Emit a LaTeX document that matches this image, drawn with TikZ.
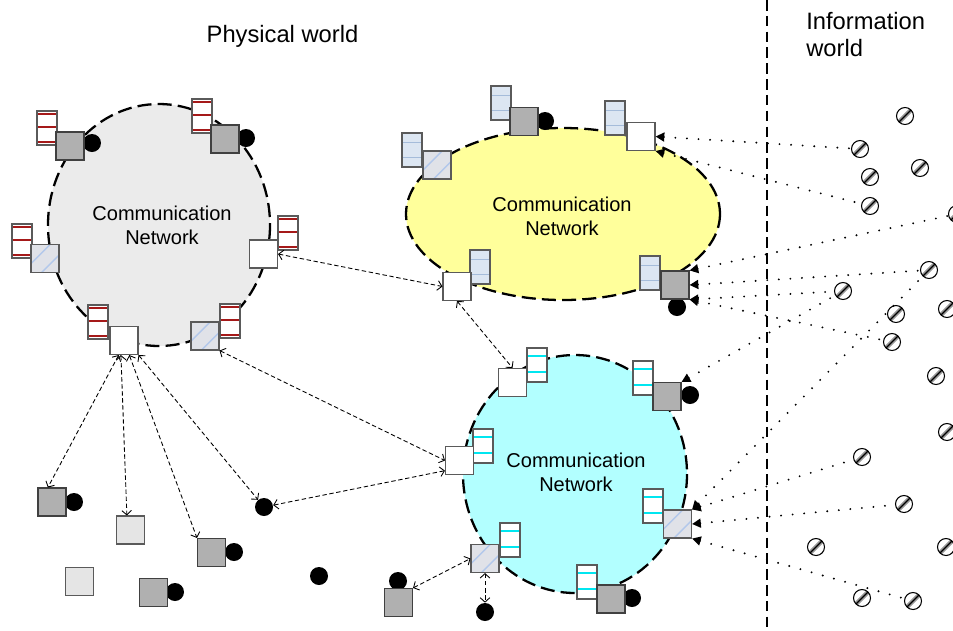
\documentclass[tikz,border=0pt]{standalone}
\usepackage{fontspec}
\setmainfont{Liberation Sans}
\usetikzlibrary{arrows.meta}

\definecolor{netgrey}{RGB}{235,235,235}
\definecolor{netyellow}{RGB}{255,255,155}
\definecolor{netcyan}{RGB}{178,255,255}
\definecolor{devdark}{RGB}{176,176,176}
\definecolor{devlight}{RGB}{229,229,229}
\definecolor{hatchfill}{RGB}{224,226,232}
\definecolor{hatchline}{RGB}{178,200,235}
\definecolor{slotred}{RGB}{165,25,25}
\definecolor{qblue}{RGB}{220,230,242}
\definecolor{slotblue}{RGB}{165,188,218}
\definecolor{slotcyan}{RGB}{0,230,240}
\definecolor{edgegrey}{RGB}{90,90,90}

\tikzset{
  net/.style={draw=black, line width=1.3pt, dash pattern=on 8pt off 3.5pt},
  netlabel/.style={align=center, inner sep=0pt, font=\fontsize{11.4}{13.6}\selectfont},
  title/.style={inner sep=0pt, font=\fontsize{13.5}{15.5}\selectfont},
  divider/.style={line width=0.8pt, dash pattern=on 6pt off 3pt},
  dev/.style={draw=edgegrey, line width=0.6pt, minimum size=0.56cm, inner sep=0pt},
  devwhite/.style={dev, fill=white},
  devdark/.style={dev, fill=devdark, draw=black!75},
  devlight/.style={dev, fill=devlight},
  devhatch/.style={dev, fill=hatchfill, path picture={
    \foreach \o in {-5pt,6pt}
      \draw[hatchline, line width=0.8pt] (path picture bounding box.south west) ++(\o,0pt) -- ++(20pt,20pt);}},
  queue/.style={draw=edgegrey, fill=white, line width=0.6pt, minimum width=0.4cm, minimum height=0.68cm, inner sep=0pt},
  qred/.style={queue, path picture={
    \foreach \o in {1.5pt,9pt,17.5pt}
      \draw[slotred, line width=1.2pt] (path picture bounding box.north west) ++(0pt,-\o) -- ++(20pt,0pt);}},
  qblue/.style={queue, fill=qblue, path picture={
    \foreach \o in {5.4pt,13.9pt}
      \draw[slotblue, line width=1pt] (path picture bounding box.north west) ++(0pt,-\o) -- ++(20pt,0pt);}},
  qcyan/.style={queue, path picture={
    \foreach \o in {4.4pt,13.5pt}
      \draw[slotcyan, line width=1.2pt] (path picture bounding box.north west) ++(0pt,-\o) -- ++(20pt,0pt);}},
  dot/.style={circle, fill=black, minimum size=0.36cm, inner sep=0pt},
  infonode/.style={circle, draw=black, line width=0.6pt, fill=white, minimum size=0.34cm, inner sep=0pt,
    path picture={
      \draw[black!40, line width=2.5pt] (path picture bounding box.south west) -- (path picture bounding box.north east);
      \draw[black, line width=0.7pt] (path picture bounding box.south west) -- (path picture bounding box.north east);}},
  physlink/.style={line width=0.5pt, dash pattern=on 2.5pt off 1.5pt,
    {Straight Barb[length=2.5pt,width=5.5pt]}-{Straight Barb[length=2.5pt,width=5.5pt]}},
  infolink/.style={line width=1.2pt, line cap=round, dash pattern=on 0pt off 6.6pt,
    {Triangle[length=5pt,width=5pt]}-}
}

\begin{document}
\begin{tikzpicture}[x=0.02cm,y=-0.02cm]
\useasboundingbox (0,0) rectangle (953,630);

% networks
\draw[net,fill=netgrey] (159,225) ellipse (111 and 121);
\draw[net,fill=netyellow] (563,214) ellipse (157 and 86);
\draw[net,fill=netcyan] (575,474) ellipse (112 and 119);
\path (162,225) node[netlabel] (lnet) {Communication\\Network};
\path (562,216) node[netlabel] (ynet) {Communication\\Network};
\path (576,472) node[netlabel] (cnet) {Communication\\Network};

% physical / information border
\draw[divider] (767,0) -- (767,630);
\node[title, anchor=base] (phys) at (282.5,42) {Physical world};
\node[title, anchor=north west, align=left] (info) at (806,12) {Information\\world};

% sensors (black balls)
\foreach \n/\x/\y in {lb1/92/143, lb2/246/138, yb2/545/121, yb5/677/307,
  cb2/690/395, cb6/632/598, cb7/485/612,
  bl1/74/502, bl3/234/552, bl4/264/507, bl6/175/592, bl7/319/576, bl8/398/581}
  \node[dot] (\n) at (\x,\y) {};

% queues
\foreach \n/\x/\y in {lq1/47/128, lq2/202/116, lq3/288/233, lq4/22/241, lq5/98/322, lq6/230/321}
  \node[qred] (\n) at (\x,\y) {};
\foreach \n/\x/\y in {yq1/412/150, yq2/501/103, yq3/615/118, yq4/480/267, yq5/650/273}
  \node[qblue] (\n) at (\x,\y) {};
\foreach \n/\x/\y in {cq1/537/365, cq2/643/378, cq3/483/446, cq4/653/506, cq5/510/540, cq6/587/582}
  \node[qcyan] (\n) at (\x,\y) {};

% devices
\foreach \n/\s/\x/\y in {ld1/devdark/70/146, ld2/devdark/225/139, ld3/devwhite/263.5/254,
  ld4/devhatch/45/258.5, ld5/devwhite/124/340.5, ld6/devhatch/205/336,
  yd1/devhatch/437/165, yd2/devdark/524/121.5, yd3/devwhite/641/136.5,
  yd4/devwhite/457/286.5, yd5/devdark/675/285,
  cd1/devwhite/512.5/382.5, cd2/devdark/667/396.5, cd3/devwhite/459.5/460.5,
  cd4/devhatch/677.5/524, cd5/devhatch/485/558.5, cd6/devdark/611/599,
  th1/devdark/52/502, th2/devlight/130.5/530, th3/devdark/211.5/552.5,
  th5/devlight/79.5/581.5, th6/devdark/153.5/592.5, th8/devdark/398.5/602.5}
  \node[\s] (\n) at (\x,\y) {};

% links in the physical world
\foreach \a/\b in {ld5.250/th1.106, ld5.258/th2.104, ld5.290/th3.north west, ld5.south east/bl4,
  ld6.south east/cd3.west, bl4/cd3.215, ld3.east/yd4.west, yd4.south/cd1.north,
  th8.north east/cd5.west, cd5.south/cb7}
  \draw[physlink] (\a) -- (\b);

% information objects
\foreach \n/\x/\y in {i1/905/116, i2/860/149, i3/920/168, i4/870/177, i5/870/206,
  i6/957/214, i7/929/270, i8/843/291, i9/947/309, i10/896/314, i11/892/342,
  i12/936/376, i13/947/432, i14/862/457, i15/904/504, i16/816/547,
  i17/946/547, i18/862/598, i19/913/601}
  \node[infonode] (\n) at (\x,\y) {};

\foreach \a/\b in {yd3.east/i2, yd3.south east/i5, yd5.north east/i6, yd5.east/i7,
  yd5.south east/i8, yd5.south east/i11, cd2.north east/i8, cd4.north east/i7,
  cd4.north east/i14, cd4.east/i15, cd4.south east/i19}
  \draw[infolink] (\a) -- (\b);
\end{tikzpicture}
\end{document}
